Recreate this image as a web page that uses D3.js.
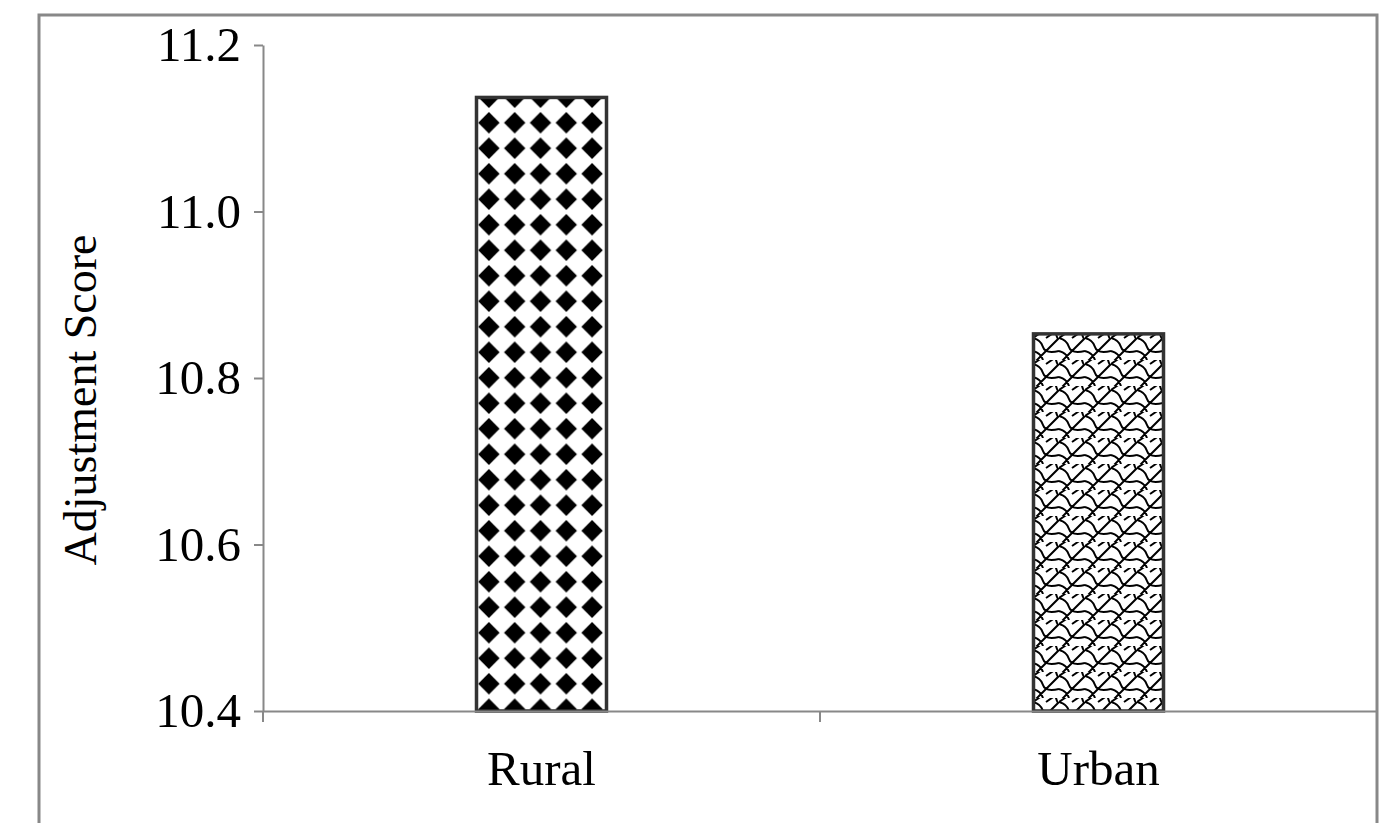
<!DOCTYPE html>
<html><head><meta charset="utf-8">
<script src="https://cdn.jsdelivr.net/npm/d3@7"></script>
<style>body{margin:0;background:#fff}</style></head>
<body><svg id="c" width="1399" height="823"></svg>
<script>
const categories = ["Rural", "Urban"];
const values = [11.137, 10.853];
const yTicks = [10.4, 10.6, 10.8, 11.0, 11.2];
const patterns = ["diamonds", "scales"];

const svg = d3.select("#c");
const font = "Liberation Serif, Times New Roman, serif";
const defs = svg.append("defs");
const p1 = defs.append("pattern").attr("id","diamonds").attr("patternUnits","userSpaceOnUse")
  .attr("width",25.8).attr("height",25.5).attr("x",476).attr("y",84.5);
p1.append("rect").attr("width",25.8).attr("height",25.5).attr("fill","#fff");
p1.append("path").attr("d","M12.9,2 L23.6,12.7 L12.9,23.5 L2.2,12.7Z").attr("fill","#000");
const p2 = defs.append("pattern").attr("id","scales").attr("patternUnits","userSpaceOnUse")
  .attr("width",26).attr("height",26).attr("x",1033).attr("y",334);
p2.append("rect").attr("width",26).attr("height",26).attr("fill","#fff");
p2.append("path").attr("d","M0,4 Q8,6 10,13 Q12,20 26,17 M0,17 Q8,19 10,26 M-13,4 Q-5,6 -3,13 M13,-9 Q21,-7 23,0 Q25,7 26,4 M0,4 L13,-5 M13,17 L26,4 M-13,30 L0,17 M0,30 L13,17 M13,4 L26,-5")
  .attr("fill","none").attr("stroke","#000").attr("stroke-width",2);

svg.append("rect").attr("x",39).attr("y",15).attr("width",1338).attr("height",830)
  .attr("fill","none").attr("stroke","#888").attr("stroke-width",3);

const x = d3.scaleBand().domain(categories).range([263,1377]);
const y = d3.scaleLinear().domain([10.4,11.2]).range([711,45]);
const bw = 130;

svg.selectAll(".bar").data(categories).enter().append("rect")
  .attr("x",d=>x(d)+x.bandwidth()/2-bw/2).attr("y",(d,i)=>y(values[i]))
  .attr("width",bw).attr("height",(d,i)=>711-y(values[i]))
  .attr("fill",(d,i)=>`url(#${patterns[i]})`).attr("stroke","#333").attr("stroke-width",3.5);

const ya = svg.append("g").attr("transform","translate(263,0)")
  .call(d3.axisLeft(y).tickValues(yTicks).tickFormat(d3.format(".1f")).tickSize(9).tickSizeOuter(0));
ya.select(".domain").attr("stroke","#888").attr("stroke-width",2);
ya.selectAll(".tick line").attr("stroke","#888").attr("stroke-width",2);
ya.selectAll("text").attr("font-family",font).attr("font-size",49).attr("fill","#000").attr("dx",-10);

const xa = svg.append("g").attr("transform","translate(0,711)")
  .call(d3.axisBottom(x).tickSize(0).tickSizeOuter(0));
xa.select(".domain").attr("stroke","#888").attr("stroke-width",2);
xa.selectAll("text").attr("font-family",font).attr("font-size",49).attr("fill","#000").attr("dy",0).attr("y",74);
xa.append("line").attr("x1",820).attr("x2",820).attr("y1",0).attr("y2",11).attr("stroke","#888").attr("stroke-width",2);
xa.append("line").attr("x1",263).attr("x2",263).attr("y1",0).attr("y2",11).attr("stroke","#888").attr("stroke-width",2);

svg.append("text").attr("transform","translate(96,400) rotate(-90)").attr("text-anchor","middle")
  .attr("font-family",font).attr("font-size",46).text("Adjustment Score");
</script></body></html>
